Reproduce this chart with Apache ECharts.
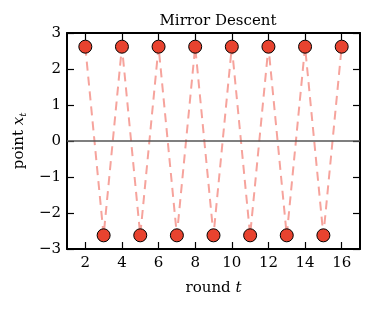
<!DOCTYPE html>
<html><head><meta charset="utf-8">
<script src="https://cdn.jsdelivr.net/npm/echarts@6/dist/echarts.min.js"></script>
<style>html,body{margin:0;padding:0;background:#fff}#c{width:374px;height:310px}</style>
</head><body><div id="c"></div>
<script>
const rounds = [2,3,4,5,6,7,8,9,10,11,12,13,14,15,16];
const points = [2.62,-2.62,2.62,-2.62,2.62,-2.62,2.62,-2.62,2.62,-2.62,2.62,-2.62,2.62,-2.62,2.62];
const xTicks = [2,4,6,8,10,12,14,16];
const yTicks = [-3,-2,-1,0,1,2,3];
const titleText = 'Mirror Descent';

const font = 'DejaVu Serif';
const chart = echarts.init(document.getElementById('c'));
const data = rounds.map((r,i)=>[r,points[i]]);
const axisLine = {show:true,onZero:false,lineStyle:{color:'#000',width:2}};
const yTick = {show:true,inside:true,length:7,lineStyle:{color:'#000',width:1.2}};
const xTick = {show:true,inside:true,length:7,customValues:xTicks,lineStyle:{color:'#000',width:1.2}};
chart.setOption({
  animation:false,
  title:{text:titleText,left:213,top:9,textAlign:'center',textStyle:{fontFamily:font,fontWeight:'normal',fontSize:15,color:'#000'}},
  grid:{left:67,right:14,top:33,bottom:61},
  xAxis:[
    {type:'value',min:1,max:17,position:'bottom',
      name:'round {i|t}',nameLocation:'middle',nameGap:32,
      nameTextStyle:{fontFamily:font,fontSize:15,color:'#000',rich:{i:{fontFamily:font,fontStyle:'italic',fontSize:15}}},
      axisLabel:{fontFamily:font,fontSize:15,color:'#000',margin:7,customValues:xTicks},
      axisLine:axisLine,axisTick:xTick,splitLine:{show:false}},
    {type:'value',min:1,max:17,position:'top',axisLine:axisLine,splitLine:{show:false},
      axisLabel:{show:false},axisTick:xTick}
  ],
  yAxis:[
    {type:'value',min:-3,max:3,position:'left',
      name:'point {i|x}{s|t}',nameLocation:'middle',nameGap:37,nameRotate:90,
      nameTextStyle:{fontFamily:font,fontSize:15,color:'#000',rich:{i:{fontFamily:font,fontStyle:'italic',fontSize:15},s:{fontFamily:font,fontStyle:'italic',fontSize:10,padding:[7,0,0,0]}}},
      axisLabel:{fontFamily:font,fontSize:15,color:'#000',margin:6,customValues:yTicks,formatter:v=>v<0?'\u2212'+(-v):String(v)},
      axisLine:axisLine,axisTick:Object.assign({customValues:yTicks},yTick),splitLine:{show:false}},
    {type:'value',min:-3,max:3,position:'right',axisLabel:{show:false},
      axisLine:axisLine,axisTick:Object.assign({customValues:yTicks},yTick),splitLine:{show:false}}
  ],
  series:[
    {type:'line',data:data,xAxisIndex:0,yAxisIndex:0,symbol:'circle',symbolSize:13,
      lineStyle:{color:'#f6a39c',width:2,type:[9,6]},
      itemStyle:{color:'#e8432f',borderColor:'#000',borderWidth:1},
      markLine:{silent:true,symbol:'none',label:{show:false},lineStyle:{color:'#555',width:1.6,type:'solid'},data:[{yAxis:0}]},
      z:3}
  ]
});
</script></body></html>
